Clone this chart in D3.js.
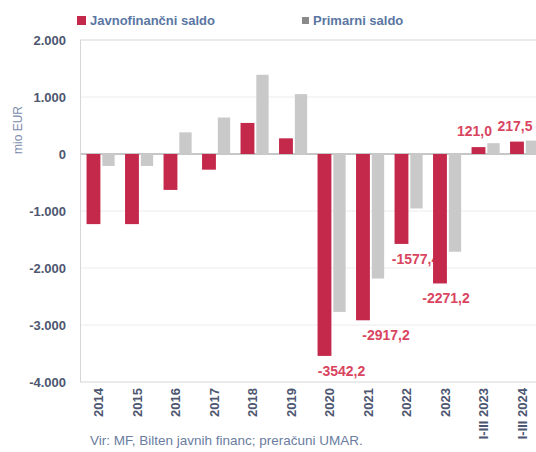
<!DOCTYPE html>
<html><head><meta charset="utf-8">
<script src="https://cdn.jsdelivr.net/npm/d3@7"></script>
<style>
html,body{margin:0;padding:0;background:#fff;overflow:hidden;}
svg{display:block;}
</style></head>
<body>
<script>
const categories = ["2014","2015","2016","2017","2018","2019","2020","2021","2022","2023","I-III 2023","I-III 2024"];
const javnofinancni = [-1230, -1230, -630, -275, 545, 275, -3542.2, -2917.2, -1577.4, -2271.2, 121.0, 217.5];
const primarni = [-210, -210, 380, 640, 1390, 1050, -2770, -2185, -955, -1715, 190, 235];
const yTicks = [2000, 1000, 0, -1000, -2000, -3000, -4000];
const labelledIdx = [6, 7, 8, 9, 10, 11];
const labelNudge = [17, 23, 14, 6, -4, -2];

const W = 536, H = 452;
const svg = d3.select("body").append("svg").attr("width", W).attr("height", H);

const x = d3.scaleBand().domain(categories).range([80, 542]).padding(0);
const y = d3.scaleLinear().domain([-4000, 2000]).range([382, 40]);
const step = x.step();
const redOff = 0.17 * step, redW = 0.36 * step;
const greyOff = 0.58 * step, greyW = 0.32 * step;

const fmt = v => {
  const s = Math.abs(v).toString();
  const t = s.length > 3 ? s.slice(0, s.length - 3) + "." + s.slice(-3) : s;
  return (v < 0 ? "-" : "") + t;
};
const fmtLbl = v => v.toFixed(1).replace(".", ",");

// grid
svg.append("g").selectAll("line").data(yTicks).join("line")
  .attr("x1", 80).attr("x2", W).attr("y1", d => y(d)).attr("y2", d => y(d))
  .attr("stroke", d => d === 0 ? "#b5b5b5" : (d === 2000 || d === -4000 ? "#d6d6d6" : "#ececec"))
  .attr("stroke-width", d => d === 0 ? 1.5 : 1);
svg.append("line").attr("x1", 80.5).attr("x2", 80.5).attr("y1", y(2000)).attr("y2", y(-4000))
  .attr("stroke", "#d6d6d6");

// y axis ticks
const yAxis = d3.axisLeft(y).tickValues(yTicks).tickSize(0).tickPadding(14).tickFormat(fmt);
const ya = svg.append("g").attr("transform", "translate(80,0)").call(yAxis);
ya.select(".domain").remove();
ya.selectAll("text").attr("font-family", "'Liberation Sans Narrow','Liberation Sans',sans-serif")
  .attr("font-size", 13).attr("font-weight", "bold").attr("fill", "#4d5670");

// y title
svg.append("text").attr("transform", "translate(22,130) rotate(-90)")
  .attr("text-anchor", "middle").attr("font-family", "'Liberation Sans',sans-serif")
  .attr("font-size", 12).attr("fill", "#7b8aab").text("mio EUR");

// value labels (drawn beneath bars)
svg.append("g").selectAll("text").data(labelledIdx).join("text")
  .attr("x", (i, k) => x(categories[i]) + redOff + redW / 2 + labelNudge[k])
  .attr("y", i => javnofinancni[i] < 0 ? y(javnofinancni[i]) + 15 : y(javnofinancni[i]) - 16)
  .attr("dy", "0.35em").attr("text-anchor", "middle")
  .attr("font-family", "'Liberation Sans',sans-serif").attr("font-size", 14).attr("font-weight", "bold")
  .attr("fill", "#d9455f").text(i => fmtLbl(javnofinancni[i]));

// bars
svg.append("g").selectAll("rect").data(categories).join("rect")
  .attr("x", c => x(c) + redOff).attr("width", redW)
  .attr("y", (c, i) => y(Math.max(0, javnofinancni[i])))
  .attr("height", (c, i) => Math.abs(y(javnofinancni[i]) - y(0)))
  .attr("fill", "#c4284b");
svg.append("g").selectAll("rect").data(categories).join("rect")
  .attr("x", c => x(c) + greyOff).attr("width", greyW)
  .attr("y", (c, i) => y(Math.max(0, primarni[i])))
  .attr("height", (c, i) => Math.abs(y(primarni[i]) - y(0)))
  .attr("fill", "#c9c9c9");

// x labels
svg.append("g").selectAll("text").data(categories).join("text")
  .attr("transform", c => `translate(${x(c) + step / 2 + 4},388) rotate(-90)`)
  .attr("text-anchor", "end")
  .attr("font-family", "'Liberation Sans Narrow','Liberation Sans',sans-serif")
  .attr("font-size", 13).attr("font-weight", "bold").attr("fill", "#4d5670").text(c => c);

// legend
svg.append("rect").attr("x", 77).attr("y", 16).attr("width", 9).attr("height", 9).attr("fill", "#c4284b");
svg.append("text").attr("x", 90).attr("y", 25).attr("font-family", "'Liberation Sans',sans-serif")
  .attr("font-size", 13).attr("font-weight", "bold").attr("fill", "#5a76a3").text("Javnofinančni saldo");
svg.append("rect").attr("x", 302).attr("y", 17).attr("width", 7).attr("height", 7).attr("fill", "#8a8a8a");
svg.append("text").attr("x", 313).attr("y", 25).attr("font-family", "'Liberation Sans',sans-serif")
  .attr("font-size", 13).attr("font-weight", "bold").attr("fill", "#5a76a3").text("Primarni saldo");

// source
svg.append("text").attr("x", 90).attr("y", 445).attr("font-family", "'Liberation Sans',sans-serif")
  .attr("font-size", 13.5).attr("fill", "#6a7da0").text("Vir: MF, Bilten javnih financ; preračuni UMAR.");
</script>
</body></html>
